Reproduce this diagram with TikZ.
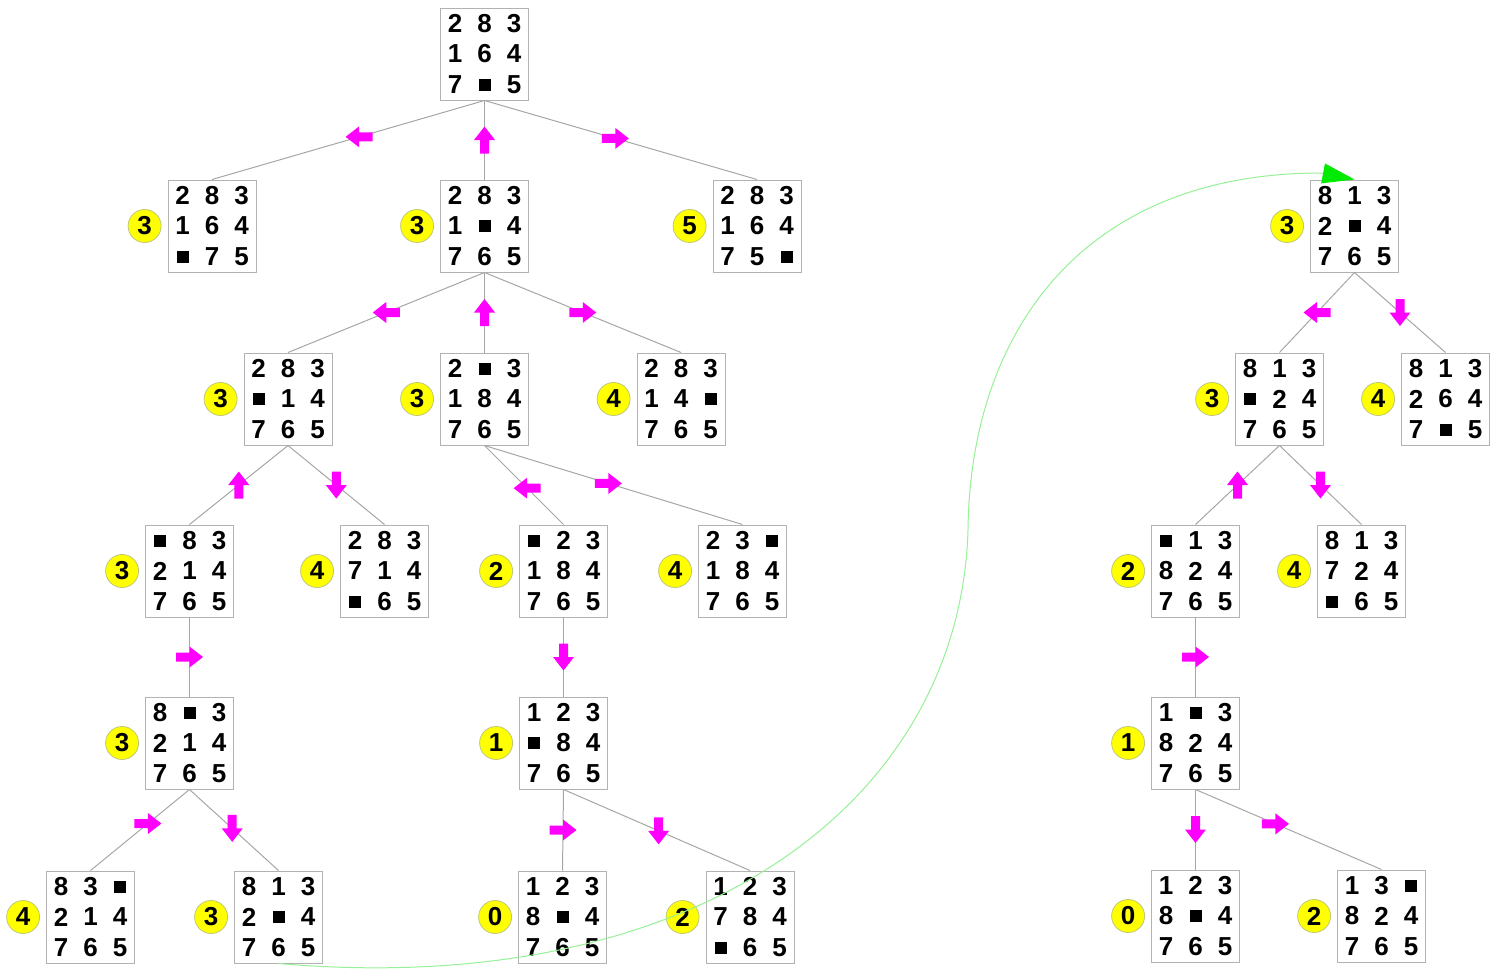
\documentclass[tikz,border=0pt]{standalone}
\usepackage{fontspec}
\setmainfont{Liberation Sans}
\usetikzlibrary{positioning,calc,arrows.meta}

\definecolor{mvcolor}{RGB}{255,0,255}
\definecolor{hcolor}{RGB}{255,255,0}
\definecolor{hline}{RGB}{190,200,120}
\definecolor{solcolor}{RGB}{150,240,150}
\definecolor{tipcolor}{RGB}{0,235,0}

\tikzset{
  boardbox/.style={draw=black!30,line width=0.5pt,fill=white,
    minimum width=44pt,minimum height=46pt,inner sep=0pt},
  tile/.style={inner sep=0pt,font=\fontsize{13}{13}\selectfont\bfseries},
  hval/.style={circle,fill=hcolor,draw=hline,line width=0.4pt,
    minimum size=16.5pt,inner sep=0pt,font=\fontsize{13}{13}\selectfont\bfseries},
  treeedge/.style={draw=black!35,line width=0.5pt},
  mv/.style={fill=mvcolor},
  solpath/.style={draw=solcolor,line width=0.5pt,
    -{Triangle[length=16pt,width=10pt,color=tipcolor]}}
}

% empty cell of the puzzle
\newcommand\hole{\rule{6pt}{6pt}}

% board: name, x, y, cells
\newcommand\board[4]{%
  \node[boardbox] (#1) at (#2,#3) {};
  \foreach \cell [count=\k from 0] in {#4} {
    \pgfmathtruncatemacro\brow{div(\k,3)}
    \pgfmathtruncatemacro\bcol{mod(\k,3)}
    \node[tile] (#1-\k) at ($(#1)+(29.5*\bcol-29.5,30.5*\brow-30.5)$) {\cell};
  }%
}

% heuristic value left of a board
\newcommand\hval[2]{\node[hval,left=3pt of #1] (#1-h) {#2};}

% edge parent -> child with move arrow: [pos]{parent}{child}{angle}
\newcommand\link[4][.5]{%
  \draw[treeedge] (#2.south) -- coordinate[pos=#1] (#2-#3) (#3.north);
  \fill[mv,shift={(#2-#3)},rotate=#4] (-13.5,-4.5) -- (0,-4.5) -- (0,-10.5)
    -- (13.5,0) -- (0,10.5) -- (0,4.5) -- (-13.5,4.5) -- cycle;
}

\begin{document}
\begin{tikzpicture}[x=0.5pt,y=-0.5pt]
  \useasboundingbox (0,0) rectangle (1494,969);

  % left search tree
  \board{r}{484.5}{54}{2,8,3,1,6,4,7,\hole,5}
  \board{a}{212}{226}{2,8,3,1,6,4,\hole,7,5}
  \board{b}{484.5}{226}{2,8,3,1,\hole,4,7,6,5}
  \board{c}{757}{226}{2,8,3,1,6,4,7,5,\hole}
  \board{ba}{288}{399}{2,8,3,\hole,1,4,7,6,5}
  \board{bb}{484.5}{399}{2,\hole,3,1,8,4,7,6,5}
  \board{bc}{681}{399}{2,8,3,1,4,\hole,7,6,5}
  \board{baa}{189.5}{571}{\hole,8,3,2,1,4,7,6,5}
  \board{bab}{384.5}{571}{2,8,3,7,1,4,\hole,6,5}
  \board{bba}{563.5}{571}{\hole,2,3,1,8,4,7,6,5}
  \board{bbb}{742.5}{571}{2,3,\hole,1,8,4,7,6,5}
  \board{baaa}{189.5}{743}{8,\hole,3,2,1,4,7,6,5}
  \board{bbaa}{563.5}{743}{1,2,3,\hole,8,4,7,6,5}
  \board{baaaa}{90.5}{917}{8,3,\hole,2,1,4,7,6,5}
  \board{baaab}{278.5}{917}{8,1,3,2,\hole,4,7,6,5}
  \board{bbaaa}{562.5}{917}{1,2,3,8,\hole,4,7,6,5}
  \board{bbaab}{750}{917}{1,2,3,7,8,4,\hole,6,5}

  \hval{a}{3} \hval{b}{3} \hval{c}{5}
  \hval{ba}{3} \hval{bb}{3} \hval{bc}{4}
  \hval{baa}{3} \hval{bab}{4} \hval{bba}{2} \hval{bbb}{4}
  \hval{baaa}{3} \hval{bbaa}{1}
  \hval{baaaa}{4} \hval{baaab}{3} \hval{bbaaa}{0} \hval{bbaab}{2}

  \link[.46]{r}{a}{180}
  \link{r}{b}{90}
  \link[.48]{r}{c}{0}
  \link{b}{ba}{180}
  \link{b}{bb}{90}
  \link{b}{bc}{0}
  \link{ba}{baa}{90}
  \link{ba}{bab}{-90}
  \link[.54]{bb}{bba}{180}
  \link[.48]{bb}{bbb}{0}
  \link{baa}{baaa}{0}
  \link{bba}{bbaa}{-90}
  \link[.42]{baaa}{baaaa}{0}
  \link[.48]{baaa}{baaab}{-90}
  \link{bbaa}{bbaaa}{0}
  \link[.51]{bbaa}{bbaab}{-90}

  % right search tree
  \board{s}{1354.5}{226}{8,1,3,2,\hole,4,7,6,5}
  \board{sa}{1279.5}{399}{8,1,3,\hole,2,4,7,6,5}
  \board{sb}{1445.5}{399}{8,1,3,2,6,4,7,\hole,5}
  \board{saa}{1195.5}{571}{\hole,1,3,8,2,4,7,6,5}
  \board{sab}{1361.5}{571}{8,1,3,7,2,4,\hole,6,5}
  \board{saaa}{1195.5}{743}{1,\hole,3,8,2,4,7,6,5}
  \board{saaaa}{1195.5}{916}{1,2,3,8,\hole,4,7,6,5}
  \board{saaab}{1381.5}{916}{1,3,\hole,8,2,4,7,6,5}

  \hval{s}{3} \hval{sa}{3} \hval{sb}{4}
  \hval{saa}{2} \hval{sab}{4} \hval{saaa}{1}
  \hval{saaaa}{0} \hval{saaab}{2}

  \link{s}{sa}{180}
  \link{s}{sb}{-90}
  \link{sa}{saa}{90}
  \link{sa}{sab}{-90}
  \link{saa}{saaa}{0}
  \link{saaa}{saaaa}{-90}
  \link[.43]{saaa}{saaab}{0}

  % jump to the second tree
  \draw[solpath] (baaab.south) .. controls (700,1000) and (960,800) .. (968,530)
    .. controls (970,335) and (1080,173) .. (1321,173) -- (s.north);
\end{tikzpicture}
\end{document}
